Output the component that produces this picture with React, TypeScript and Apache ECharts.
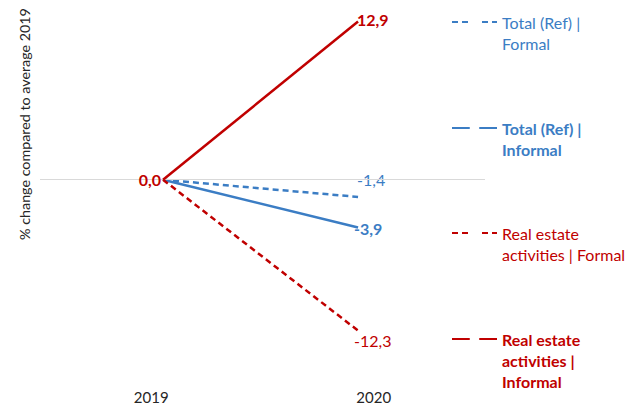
import React, { useEffect, useRef } from "react";
import * as echarts from "echarts";

const years = ["2019", "2020"];
const seriesNames = [
  "Total (Ref) | Formal",
  "Total (Ref) | Informal",
  "Real estate activities | Formal",
  "Real estate activities | Informal",
];
const legendLabels = [
  "Total (Ref) |\nFormal",
  "Total (Ref) |\nInformal",
  "Real estate\nactivities | Formal",
  "Real estate\nactivities |\nInformal",
];
const totalFormal = [0.0, -1.4];
const totalInformal = [0.0, -3.9];
const realEstateFormal = [0.0, -12.3];
const realEstateInformal = [0.0, 12.9];
const yAxisTitle = "% change compared to average 2019";

const BLUE = "#3b7dc4";
const RED = "#c00000";
const FONT = "Lato, 'Open Sans', sans-serif";

const fmt = (v: number) => v.toFixed(1).replace(".", ",");

export default function App() {
  const ref = useRef<HTMLDivElement>(null);
  useEffect(() => {
    document.body.style.margin = "0";
    if (!ref.current) return;
    const chart = echarts.init(ref.current, undefined, { renderer: "svg" });
    const values = [totalFormal, totalInformal, realEstateFormal, realEstateInformal];
    const colors = [BLUE, BLUE, RED, RED];
    const dashed = [true, false, true, false];
    const bold = [false, true, false, true];
    const endOffsets = [
      [-6, -17],
      [-9, 1],
      [-9, 10],
      [-6, -2],
    ];
    const series = values.map((vals, si) => ({
      type: "line",
      name: seriesNames[si],
      xAxisIndex: 1,
      symbol: "circle",
      symbolSize: 0,
      showSymbol: true,
      lineStyle: {
        color: colors[si],
        width: 2.5,
        type: dashed[si] ? [6, 4] : "solid",
      },
      itemStyle: { color: colors[si] },
      z: 2 + si,
      data: vals.map((v, i) => ({
        value: [i, v],
        label: {
          show: i === 1 || si === 3,
          position: i === 0 ? "left" : "right",
          offset: i === 0 ? [3, 0] : endOffsets[si],
          formatter: () => fmt(v),
          color: colors[si],
          fontWeight: bold[si] ? "bold" : "normal",
          fontSize: 16,
          fontFamily: FONT,
        },
      })),
      markLine:
        si === 0
          ? {
              silent: true,
              symbol: "none",
              label: { show: false },
              lineStyle: { color: "#d9d9d9", type: "solid", width: 1 },
              data: [{ yAxis: 0 }],
            }
          : undefined,
    }));
    const legendTops = [22, 128, 233, 339];
    const lh = 21;
    const legend = seriesNames.map((name, si) => {
      const n = legendLabels[si].split("\n").length;
      return {
        data: [name],
        left: 451,
        top: legendTops[si] - ((2 * n - 1) * lh) / 2,
        padding: 0,
        itemWidth: 45,
        itemHeight: 12,
        selectedMode: false,
        itemStyle: { color: "#ffffff", borderWidth: 0 },
        formatter: () => "\n".repeat(n - 1) + legendLabels[si],
        textStyle: {
          color: colors[si],
          fontSize: 16,
          fontFamily: FONT,
          fontWeight: bold[si] ? "bold" : "normal",
          lineHeight: lh,
        },
      };
    });
    chart.setOption({
      animation: false,
      grid: { left: 40, right: 158, top: 8, bottom: 31, containLabel: false },
      xAxis: [
        {
          type: "category",
          data: years,
          boundaryGap: true,
          axisLine: { show: false },
          axisTick: { show: false },
          splitLine: { show: false },
          axisLabel: {
            color: "#262626",
            fontSize: 15,
            fontFamily: FONT,
            margin: 13,
          },
        },
        {
          type: "value",
          min: -0.631,
          max: 1.651,
          show: false,
        },
      ],
      yAxis: {
        type: "value",
        min: -16,
        max: 14,
        show: false,
      },
      legend,
      graphic: [
        {
          type: "text",
          x: 24,
          y: 124,
          rotation: Math.PI / 2,
          style: {
            text: yAxisTitle,
            fill: "#262626",
            fontSize: 14.3,
            fontFamily: FONT,
            align: "center",
            verticalAlign: "middle",
          },
        },
      ],
      series,
    });
    return () => chart.dispose();
  }, []);
  return <div ref={ref} style={{ width: 643, height: 407 }} />;
}
